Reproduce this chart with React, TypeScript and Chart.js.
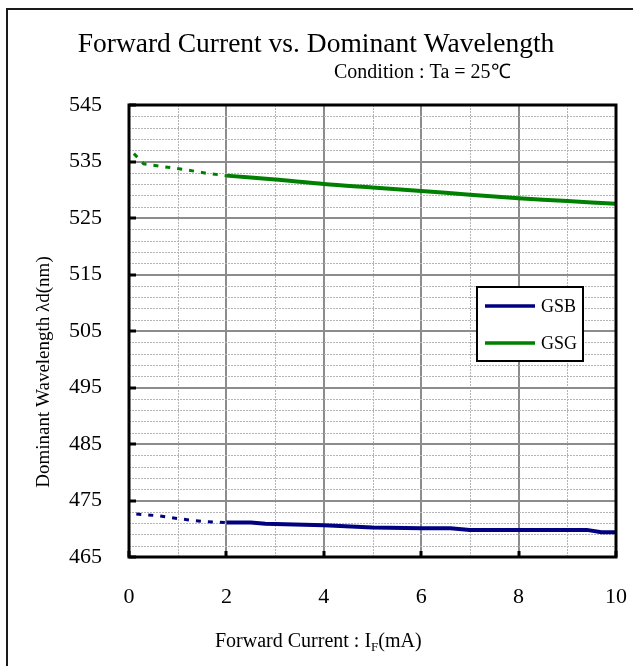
import { useEffect, useRef } from 'react';
import { Chart, registerables } from 'chart.js';

Chart.register(...registerables);

const FONT = '"Liberation Serif", "Times New Roman", serif';

const titleText = 'Forward Current vs. Dominant Wavelength';
const subtitleText = 'Condition : Ta = 25℃';
const yAxisTitle = 'Dominant Wavelength λd(nm)';
const xAxisTitleMain = 'Forward Current : I';
const xAxisTitleSub = 'F';
const xAxisTitleTail = '(mA)';

const xMin = 0;
const xMax = 10;
const yMin = 465;
const yMax = 545;
const xMajorStep = 2;
const yMajorStep = 10;

const seriesNames = ['GSB', 'GSG'];
const seriesColors = ['#000080', '#008000'];

// GSB (blue) – extrapolated dashed part and measured solid part
const gsbDashedX = [0.15, 0.6, 1.0, 1.5, 2.0];
const gsbDashedY = [472.6, 472.3, 471.8, 471.3, 471.1];
const gsbSolidX = [2.0, 2.5, 2.8, 4.0, 5.0, 6.0, 6.6, 7.0, 8.0, 9.4, 9.7, 10.0];
const gsbSolidY = [471.1, 471.1, 470.9, 470.6, 470.2, 470.1, 470.1, 469.8, 469.8, 469.8, 469.4, 469.4];

// GSG (green)
const gsgDashedX = [0.1, 0.3, 0.7, 1.2, 1.6, 2.0];
const gsgDashedY = [536.4, 534.6, 534.1, 533.5, 532.9, 532.5];
const gsgSolidX = [2.0, 3.0, 4.0, 5.0, 6.0, 7.0, 8.0, 9.0, 10.0];
const gsgSolidY = [532.5, 531.8, 531.0, 530.4, 529.8, 529.1, 528.5, 528.0, 527.5];

const zip = (xs: number[], ys: number[]) => xs.map((x, i) => ({ x, y: ys[i] }));

const decorPlugin = {
  id: 'decor',
  beforeDraw(chart: any) {
    const ctx = chart.ctx as CanvasRenderingContext2D;
    const W = chart.width;
    const H = chart.height;
    ctx.save();
    ctx.fillStyle = '#ffffff';
    ctx.fillRect(0, 0, W, H);
    // outer frame (top + left visible)
    ctx.strokeStyle = '#1a1a1a';
    ctx.lineWidth = 2;
    ctx.beginPath();
    ctx.moveTo(7, H + 2);
    ctx.lineTo(7, 9);
    ctx.lineTo(W + 2, 9);
    ctx.stroke();
    // title & subtitle
    ctx.fillStyle = '#000';
    ctx.textBaseline = 'alphabetic';
    ctx.textAlign = 'center';
    ctx.font = `27.5px ${FONT}`;
    ctx.fillText(titleText, 316, 52);
    ctx.textAlign = 'left';
    ctx.font = `20px ${FONT}`;
    ctx.fillText(subtitleText, 334, 78);
    ctx.restore();
  },
  beforeDatasetsDraw(chart: any) {
    const ctx = chart.ctx as CanvasRenderingContext2D;
    const { left, right, top, bottom } = chart.chartArea;
    const xs = chart.scales.x;
    const ys = chart.scales.y;
    ctx.save();
    // vertical grid
    xs.ticks.forEach((t: any) => {
      const v = t.value;
      const px = Math.round(xs.getPixelForValue(v));
      const major = Math.abs(v % xMajorStep) < 1e-9;
      ctx.beginPath();
      if (major) {
        ctx.strokeStyle = '#8c8c8c';
        ctx.lineWidth = 2;
        ctx.setLineDash([]);
        ctx.moveTo(px, top);
        ctx.lineTo(px, bottom);
      } else {
        ctx.strokeStyle = '#b4b4b4';
        ctx.lineWidth = 1;
        ctx.setLineDash([2, 1]);
        ctx.moveTo(px + 0.5, top);
        ctx.lineTo(px + 0.5, bottom);
      }
      ctx.stroke();
    });
    // horizontal grid
    ys.ticks.forEach((t: any) => {
      const v = t.value;
      const py = Math.round(ys.getPixelForValue(v));
      const major = Math.abs((v - yMin) % yMajorStep) < 1e-9;
      ctx.beginPath();
      if (major) {
        ctx.strokeStyle = '#8c8c8c';
        ctx.lineWidth = 2;
        ctx.setLineDash([]);
        ctx.moveTo(left, py);
        ctx.lineTo(right, py);
      } else {
        ctx.strokeStyle = '#b4b4b4';
        ctx.lineWidth = 1;
        ctx.setLineDash([2, 1]);
        ctx.moveTo(left, py + 0.5);
        ctx.lineTo(right, py + 0.5);
      }
      ctx.stroke();
    });
    ctx.restore();
  },
  afterDatasetsDraw(chart: any) {
    const ctx = chart.ctx as CanvasRenderingContext2D;
    const { left, right, top, bottom } = chart.chartArea;
    const xs = chart.scales.x;
    const ys = chart.scales.y;
    ctx.save();
    ctx.setLineDash([]);
    // plot frame
    ctx.strokeStyle = '#000';
    ctx.lineWidth = 3;
    ctx.strokeRect(left, top, right - left, bottom - top);
    // inward tick stubs
    ctx.lineWidth = 3;
    ys.ticks.forEach((t: any) => {
      const v = t.value;
      if (Math.abs((v - yMin) % yMajorStep) > 1e-9) return;
      const py = Math.round(ys.getPixelForValue(v));
      ctx.beginPath();
      ctx.moveTo(left, py);
      ctx.lineTo(left + 7, py);
      ctx.stroke();
    });
    xs.ticks.forEach((t: any) => {
      const v = t.value;
      if (Math.abs(v % xMajorStep) > 1e-9) return;
      const px = Math.round(xs.getPixelForValue(v));
      ctx.beginPath();
      ctx.moveTo(px, bottom);
      ctx.lineTo(px, bottom - 6);
      ctx.stroke();
    });
    // legend
    const lx = 477, ly = 287, lw = 106, lh = 74;
    ctx.fillStyle = '#fff';
    ctx.fillRect(lx, ly, lw, lh);
    ctx.strokeStyle = '#000';
    ctx.lineWidth = 2;
    ctx.strokeRect(lx, ly, lw, lh);
    ctx.font = `18px ${FONT}`;
    ctx.textAlign = 'left';
    ctx.textBaseline = 'middle';
    seriesNames.forEach((name, i) => {
      const yy = ly + 19 + i * 37;
      ctx.strokeStyle = seriesColors[i];
      ctx.lineWidth = 3.5;
      ctx.beginPath();
      ctx.moveTo(lx + 8, yy);
      ctx.lineTo(lx + 58, yy);
      ctx.stroke();
      ctx.fillStyle = '#000';
      ctx.fillText(name, lx + 64, yy + 1);
    });
    // axis titles
    ctx.fillStyle = '#000';
    ctx.save();
    ctx.translate(44, 372);
    ctx.rotate(-Math.PI / 2);
    ctx.font = `19px ${FONT}`;
    ctx.textAlign = 'center';
    ctx.textBaseline = 'middle';
    ctx.fillText(yAxisTitle, 0, 0);
    ctx.restore();

    ctx.textAlign = 'left';
    ctx.textBaseline = 'alphabetic';
    let x = 215;
    const by = 647;
    ctx.font = `20px ${FONT}`;
    ctx.fillText(xAxisTitleMain, x, by);
    x += ctx.measureText(xAxisTitleMain).width;
    ctx.font = `13px ${FONT}`;
    ctx.fillText(xAxisTitleSub, x, by + 4);
    x += ctx.measureText(xAxisTitleSub).width;
    ctx.font = `20px ${FONT}`;
    ctx.fillText(xAxisTitleTail, x, by);
    ctx.restore();
  },
};

export default function App() {
  const ref = useRef<HTMLCanvasElement | null>(null);
  useEffect(() => {
    document.body.style.margin = '0';
    const canvas = ref.current;
    if (!canvas) return;
    const solidW = 4;
    const dashW = 3;
    const chart = new Chart(canvas, {
      type: 'scatter',
      data: {
        datasets: [
          {
            label: 'GSB dashed',
            data: zip(gsbDashedX, gsbDashedY),
            borderColor: seriesColors[0],
            borderWidth: dashW,
            borderDash: [5, 7],
            showLine: true,
            pointRadius: 0,
            tension: 0,
          },
          {
            label: seriesNames[0],
            data: zip(gsbSolidX, gsbSolidY),
            borderColor: seriesColors[0],
            borderWidth: solidW,
            showLine: true,
            pointRadius: 0,
            tension: 0,
          },
          {
            label: 'GSG dashed',
            data: zip(gsgDashedX, gsgDashedY),
            borderColor: seriesColors[1],
            borderWidth: dashW,
            borderDash: [5, 7],
            showLine: true,
            pointRadius: 0,
            tension: 0,
          },
          {
            label: seriesNames[1],
            data: zip(gsgSolidX, gsgSolidY),
            borderColor: seriesColors[1],
            borderWidth: solidW,
            showLine: true,
            pointRadius: 0,
            tension: 0.3,
          },
        ],
      },
      options: {
        animation: false,
        responsive: true,
        maintainAspectRatio: false,
        layout: { padding: { top: 105, right: 17, left: 0, bottom: 0 } },
        plugins: {
          legend: { display: false },
          title: { display: false },
          tooltip: { enabled: false },
        },
        scales: {
          x: {
            type: 'linear',
            min: xMin,
            max: xMax,
            grid: { display: false, drawTicks: false },
            border: { display: false },
            afterFit: (s: any) => {
              s.height = 109;
              s.paddingLeft = 0;
              s.paddingRight = 0;
            },
            ticks: {
              stepSize: 1,
              autoSkip: false,
              maxRotation: 0,
              padding: 27,
              color: '#000',
              font: { family: FONT, size: 22 },
              callback: (v: any) => (Number(v) % xMajorStep === 0 ? String(v) : ''),
            },
          },
          y: {
            type: 'linear',
            min: yMin,
            max: yMax,
            grid: { display: false, drawTicks: false },
            border: { display: false },
            afterFit: (s: any) => {
              s.width = 129;
              s.paddingTop = 0;
              s.paddingBottom = 0;
            },
            ticks: {
              stepSize: 2,
              autoSkip: false,
              padding: 27,
              color: '#000',
              font: { family: FONT, size: 22 },
              callback: (v: any) => ((Number(v) - yMin) % yMajorStep === 0 ? String(v) : ''),
            },
          },
        },
      },
      plugins: [decorPlugin],
    });
    return () => chart.destroy();
  }, []);
  return (
    <div style={{ position: 'relative', width: 633, height: 666 }}>
      <canvas ref={ref} />
    </div>
  );
}
